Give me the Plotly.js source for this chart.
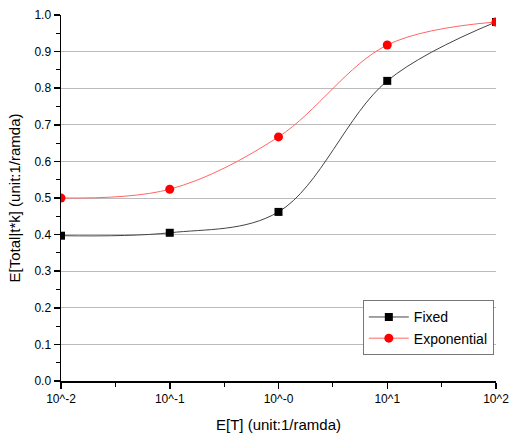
<!DOCTYPE html>
<html>
<head>
<meta charset="utf-8">
<script src="https://cdn.plot.ly/plotly-3.0.1.min.js"></script>
<style>html,body{margin:0;padding:0;background:#fff;}#chart{width:510px;height:436px;}</style>
</head>
<body>
<div id="chart"></div>
<script>
const xValues = [0.01, 0.1, 1, 10, 100];
const fixedValues = [0.397, 0.405, 0.462, 0.820, 0.981];
const expValues = [0.500, 0.524, 0.667, 0.918, 0.981];
const xTickVals = [0.01, 0.1, 1, 10, 100];
const xTickText = ['10^-2', '10^-1', '10^-0', '10^1', '10^2'];
const xMinorVals = [0.0316, 0.316, 3.16, 31.6];

const traces = [
  {x: xValues, y: fixedValues, name: 'Fixed', type: 'scatter', mode: 'lines+markers',
   line: {shape: 'spline', color: '#444444', width: 1},
   marker: {symbol: 'square', size: 8, color: '#000000'}},
  {x: xValues, y: expValues, name: 'Exponential', type: 'scatter', mode: 'lines+markers',
   line: {shape: 'spline', color: '#ff6666', width: 1},
   marker: {symbol: 'circle', size: 9, color: '#ff0000'}}
];

const font = {family: 'Liberation Sans, Arial, sans-serif', color: '#000'};
const layout = {
  width: 510, height: 436,
  margin: {l: 61, r: 14, t: 15, b: 55},
  paper_bgcolor: '#fff', plot_bgcolor: '#fff',
  font: font,
  showlegend: true,
  legend: {x: 0.995, xanchor: 'right', y: 0.07, yanchor: 'bottom',
    bordercolor: '#777', borderwidth: 1, bgcolor: '#fff',
    font: {family: font.family, size: 14, color: '#000'}, tracegroupgap: 0, itemwidth: 40},
  xaxis: {type: 'log', range: [-2, 2], tickmode: 'array', tickvals: xTickVals, ticktext: xTickText,
    showgrid: false, zeroline: false, showline: true, linecolor: '#000', linewidth: 1.5,
    ticks: 'outside', ticklen: 6, tickwidth: 1.5, tickcolor: '#000',
    tickfont: {family: font.family, size: 12, color: '#000'},
    minor: {tickmode: 'array', tickvals: xMinorVals, ticks: 'outside', ticklen: 4, tickwidth: 1, tickcolor: '#000', showgrid: false},
    title: {text: 'E[T] (unit:1/ramda)', font: {family: font.family, size: 15, color: '#000'}, standoff: 14}},
  yaxis: {range: [0, 1], dtick: 0.1, tick0: 0, tickformat: '.1f',
    showgrid: true, gridcolor: '#bbbbbb', gridwidth: 1, zeroline: false,
    showline: true, linecolor: '#000', linewidth: 1.5,
    ticks: 'outside', ticklen: 6, tickwidth: 1.5, tickcolor: '#000',
    tickfont: {family: font.family, size: 12, color: '#000'},
    minor: {dtick: 0.05, tick0: 0.05, ticks: 'outside', ticklen: 4, tickwidth: 1, tickcolor: '#000', showgrid: false},
    title: {text: 'E[Total|t*k] (unit:1/ramda)', font: {family: font.family, size: 15, color: '#000'}, standoff: 10}}
};
Plotly.newPlot('chart', traces, layout, {displayModeBar: false, staticPlot: true});
</script>
</body>
</html>
